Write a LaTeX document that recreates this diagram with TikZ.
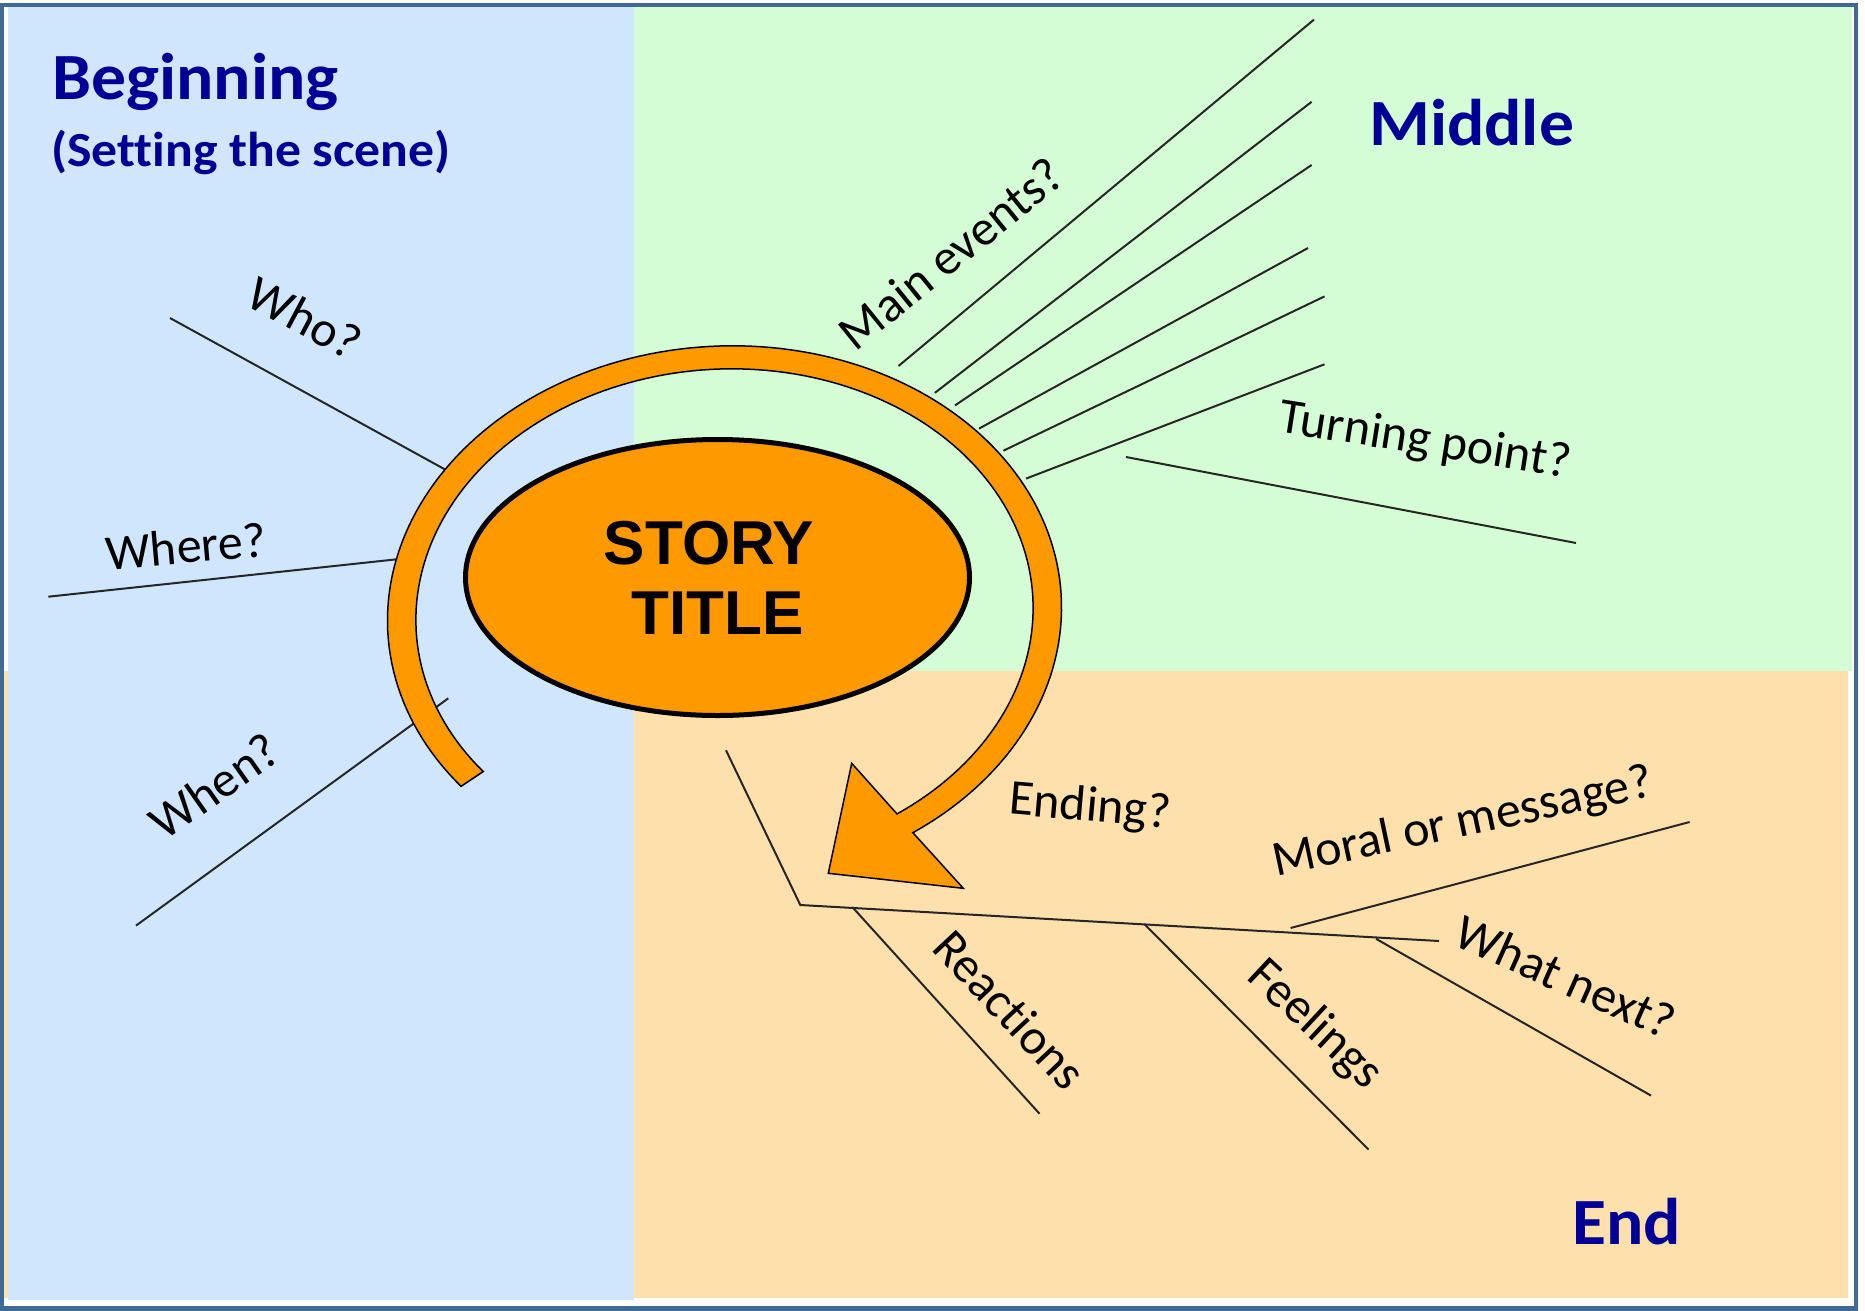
\documentclass[tikz,border=0pt]{standalone}
\usepackage{fontspec}
\setmainfont{Carlito}[Ligatures=NoCommon]
\newfontfamily\titlefont{Liberation Sans}
\usetikzlibrary{shapes.geometric}
\definecolor{bgblue}{RGB}{208,230,253}
\definecolor{bggreen}{RGB}{213,253,213}
\definecolor{bgbeige}{RGB}{253,224,172}
\definecolor{frameblue}{RGB}{65,105,150}
\definecolor{navy}{RGB}{0,0,150}
\definecolor{arroworange}{RGB}{255,153,0}
\begin{document}
\begin{tikzpicture}[x=1pt,y=-1pt,
  declare function={
    ox(\t)=724.5+337.2*cos(\t)*cos(3)+268*sin(\t)*sin(3);
    oy(\t)=614-337.2*cos(\t)*sin(3)+268*sin(\t)*cos(3);
    ix(\t)=724.5+308.8*cos(\t)*cos(3)+245*sin(\t)*sin(3);
    iy(\t)=614-308.8*cos(\t)*sin(3)+245*sin(\t)*cos(3);
  },
  lbl/.style={font=\fontsize{50}{60}\selectfont, inner sep=0pt, text=black},
  ttl/.style={font=\bfseries\fontsize{66}{79}\selectfont, text=navy, inner sep=0pt, anchor=base west, xscale=1.055},
  spoke/.style={draw=black!85, line width=2pt},
  band/.style={fill=arroworange, draw=black, line width=1.5pt, line join=miter},
  titleoval/.style={ellipse, draw=black, line width=5pt, fill=arroworange,
    minimum width=504pt, minimum height=276pt, inner sep=0pt, align=center,
    font=\titlefont\bfseries\fontsize{62}{70}\selectfont},
  frame/.style={draw=frameblue, line width=4.5pt}
]
\useasboundingbox (0,0) rectangle (1865,1311);
% backgrounds
\fill[white] (0,0) rectangle (1865,1311);
\fill[bgbeige] (4,671) rectangle (1848.3,1297.7);
\fill[bgblue] (8.3,7) rectangle (634,1300);
\fill[bggreen] (634,7) rectangle (1852,671);
\draw[frame] (2,5) rectangle (1856,1308.5);

% coordinates of spokes
\coordinate (whoA) at (170,318);   \coordinate (whoB) at (446,470);
\coordinate (whereA) at (48.3,596.7); \coordinate (whereB) at (396.7,559.3);
\coordinate (whenA) at (136,925.6); \coordinate (whenB) at (448.3,698.3);
\coordinate (m1a) at (898.5,366);  \coordinate (m1b) at (1314,19.6);
\coordinate (m2a) at (934.8,392.9); \coordinate (m2b) at (1311.6,101.8);
\coordinate (m3a) at (955,405.4);  \coordinate (m3b) at (1311.6,165);
\coordinate (m4a) at (979,428.6);  \coordinate (m4b) at (1308,248);
\coordinate (m5a) at (1003.4,450.7); \coordinate (m5b) at (1324.5,296.4);
\coordinate (m6a) at (1026,478.6); \coordinate (m6b) at (1324.5,364.3);
\coordinate (tpA) at (1126,457);   \coordinate (tpB) at (1576,543);
\coordinate (spA) at (726,750.3);  \coordinate (spB) at (800.3,905); \coordinate (spC) at (1439,941);
\coordinate (reA) at (852.3,907);  \coordinate (reB) at (1039.5,1113.7);
\coordinate (feA) at (1144.3,924); \coordinate (feB) at (1368.6,1149.6);
\coordinate (wnA) at (1376,938.8); \coordinate (wnB) at (1651,1095.6);
\coordinate (moA) at (1290.6,928); \coordinate (moB) at (1689.6,822);

\draw[spoke] (whoA) -- (whoB);
\draw[spoke] (whereA) -- (whereB);
\draw[spoke] (whenA) -- (whenB);
\foreach \i in {1,...,6} { \draw[spoke] (m\i a) -- (m\i b); }
\draw[spoke] (tpA) -- (tpB);
\draw[spoke, line join=miter] (spA) -- (spB) -- (spC);
\draw[spoke] (reA) -- (reB);
\draw[spoke] (feA) -- (feB);
\draw[spoke] (wnA) -- (wnB);
\draw[spoke] (moA) -- (moB);

% curved arrow
\coordinate (headB) at (963.3,888.3);
\coordinate (headT) at (828.3,873.3);
\coordinate (headA) at (851.7,763.3);
\filldraw[band] plot[domain=143.8:418.4, samples=160, variable=\t] ({ox(\t)},{oy(\t)})
  -- (headB) -- (headT) -- (headA)
  -- plot[domain=418.4:143.8, samples=160, variable=\t] ({ix(\t)},{iy(\t)}) -- cycle;

% title oval
\node[titleoval] (story) at (717.5,577.5) {STORY\kern17pt\\TITLE};

% headings
\node[ttl] (beginning) at (52,100) {Beginning};
\node[ttl, font=\bfseries\fontsize{49}{59}\selectfont] (scene) at (51,166.7) {(Setting the scene)};
\node[ttl] (middle) at (1369,146) {Middle};
\node[ttl] (end) at (1572,1244.4) {End};

% labels
\node[lbl, rotate=-28] (who) at (305,318) {Who?};
\node[lbl, rotate=5] (where) at (186,546) {Where?};
\node[lbl, rotate=35] (when) at (214.3,786) {When?};
\node[lbl, rotate=39] (mainev) at (951,253.6) {Main events?};
\node[lbl, rotate=-9] (turning) at (1425,442) {Turning point?};
\node[lbl, rotate=-5] (ending) at (1090,808) {Ending?};
\node[lbl, rotate=12] (moral) at (1463,823.5) {Moral or message?};
\node[lbl, rotate=-47] (reactions) at (1010,1009.4) {Reactions};
\node[lbl, rotate=-43] (feelings) at (1314.7,1025.3) {Feelings};
\node[lbl, rotate=-24] (whatnext) at (1565.5,976.8) {What next?};
\end{tikzpicture}
\end{document}
